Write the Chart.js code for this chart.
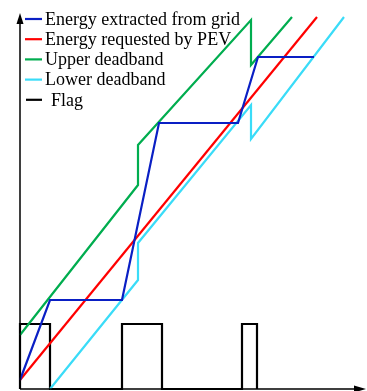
<!DOCTYPE html>
<html>
<head>
<meta charset="utf-8">
<script src="https://cdn.jsdelivr.net/npm/chart.js@4"></script>
<style>
  body { margin: 0; background: #fff; }
  #myChart { display: block; }
</style>
</head>
<body>
<canvas id="myChart" width="367" height="391"></canvas>
<script>
// series values (time, energy), arbitrary units
const gridX = [0, 3.0, 10.2, 13.9, 21.8, 23.8, 29.4];
const gridY = [0.9, 8.9, 8.9, 26.6, 26.6, 33.2, 33.2];

const requestX = [0, 29.7];
const requestY = [0.9, 37.2];

const upperX = [0, 11.8, 11.8, 23.1, 23.1, 27.2];
const upperY = [5.4, 20.4, 24.4, 36.9, 32.4, 37.2];

const lowerX = [3.0, 11.8, 11.8, 23.1, 23.1, 32.4];
const lowerY = [0, 10.9, 14.6, 28.4, 25.0, 37.2];

const flagX = [0, 0, 3.0, 3.0, 10.2, 10.2, 14.2, 14.2, 22.2, 22.2, 23.7, 23.7];
const flagY = [0, 6.5, 6.5, 0, 0, 6.5, 6.5, 0, 0, 6.5, 6.5, 0];

const labels = ["Energy extracted from grid", "Energy requested by PEV", "Upper deadband", "Lower deadband", "Flag"];
const colors = ["#0a1fc4", "#ff0000", "#00ad4f", "#3adcf8", "#000000"];

const toPoints = (xs, ys) => xs.map((x, i) => ({ x: x, y: ys[i] }));

const series = [
  toPoints(gridX, gridY),
  toPoints(requestX, requestY),
  toPoints(upperX, upperY),
  toPoints(lowerX, lowerY),
  toPoints(flagX, flagY)
];

// arrows for the two axes
const axisArrows = {
  id: "axisArrows",
  afterDatasetsDraw(chart) {
    const ctx = chart.ctx;
    const a = chart.chartArea;
    ctx.save();
    ctx.strokeStyle = "#000";
    ctx.fillStyle = "#000";
    ctx.lineWidth = 1.5;
    ctx.beginPath();
    ctx.moveTo(a.left, a.bottom);
    ctx.lineTo(a.left, a.top + 6);
    ctx.moveTo(a.left, a.bottom);
    ctx.lineTo(a.right - 6, a.bottom);
    ctx.stroke();
    ctx.beginPath();
    ctx.moveTo(a.left, a.top);
    ctx.lineTo(a.left - 3.5, a.top + 11);
    ctx.lineTo(a.left + 3.5, a.top + 11);
    ctx.closePath();
    ctx.fill();
    ctx.beginPath();
    ctx.moveTo(a.right + 3, a.bottom);
    ctx.lineTo(a.right - 9, a.bottom - 3.5);
    ctx.lineTo(a.right - 9, a.bottom + 3.5);
    ctx.closePath();
    ctx.fill();
    ctx.restore();
  }
};

// legend drawn at top left like the original figure
const boxLegend = {
  id: "boxLegend",
  afterDraw(chart) {
    const ctx = chart.ctx;
    ctx.save();
    ctx.font = "18px 'Liberation Serif', 'Times New Roman', serif";
    ctx.textBaseline = "middle";
    chart.data.datasets.forEach((ds, i) => {
      const y = 19 + i * 20.2;
      ctx.strokeStyle = ds.borderColor;
      ctx.lineWidth = 2.2;
      ctx.beginPath();
      ctx.moveTo(i == 4 ? 26 : 25, y);
      ctx.lineTo(42, y);
      ctx.stroke();
      ctx.fillStyle = "#000";
      ctx.fillText(ds.label, i == 4 ? 51 : 45, y + 1);
    });
    ctx.restore();
  }
};

const ctx = document.getElementById("myChart").getContext("2d");
const myChart = new Chart(ctx, {
  type: "line",
  data: {
    datasets: series.map((pts, i) => ({
      label: labels[i],
      data: pts,
      borderColor: colors[i],
      backgroundColor: colors[i],
      borderWidth: 2.2,
      pointRadius: 0,
      tension: 0,
      fill: false,
      clip: false
    }))
  },
  options: {
    responsive: false,
    animation: false,
    layout: { padding: { left: 20, right: 4, top: 13, bottom: 2 } },
    plugins: { legend: { display: false }, tooltip: { enabled: false } },
    scales: {
      x: { type: "linear", min: 0, max: 34.3, display: false },
      y: { type: "linear", min: 0, max: 37.6, display: false }
    }
  },
  plugins: [axisArrows, boxLegend]
});
</script>
</body>
</html>
